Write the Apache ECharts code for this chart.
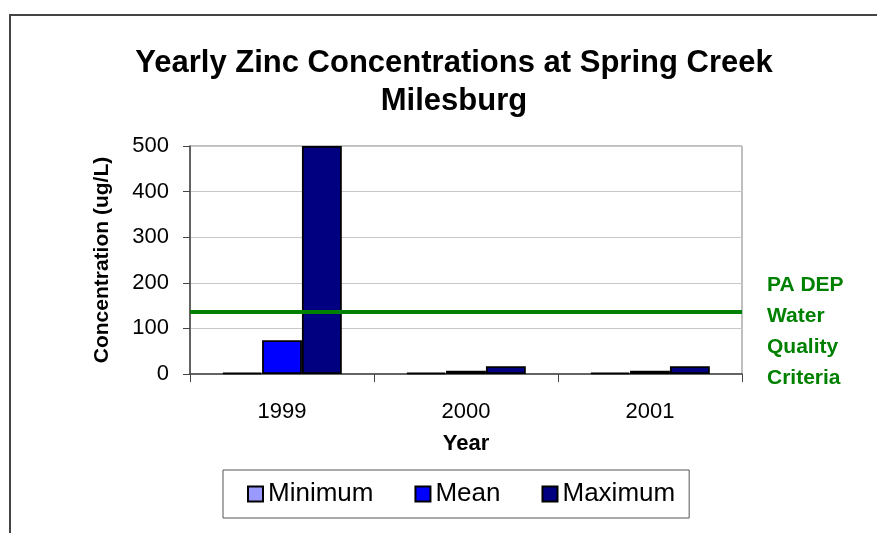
<!DOCTYPE html>
<html>
<head>
<meta charset="utf-8">
<script src="https://cdn.jsdelivr.net/npm/echarts@6/dist/echarts.min.js"></script>
<style>
  html, body { margin: 0; padding: 0; background: #fff; }
  #chart { width: 877px; height: 533px; }
</style>
</head>
<body>
<div id="chart"></div>
<script>
// values
var years = ['1999', '2000', '2001']
var minimum = [3, 3, 3]
var mean = [74, 7, 7]
var maximum = [500, 17, 17]
var criteria = 137
var yTicks = [0, 100, 200, 300, 400, 500]

var font = 'Arial, "Liberation Sans", sans-serif'
var chart = echarts.init(document.getElementById('chart'))

function barSeries(name, data, color) {
  return {
    name: name,
    type: 'bar',
    data: data,
    barGap: 0,
    barCategoryGap: '35%',
    itemStyle: { color: color, borderColor: '#000', borderWidth: 1.8 }
  }
}

var series = [
  barSeries('Minimum', minimum, '#9999ff'),
  barSeries('Mean', mean, '#0000ff'),
  barSeries('Maximum', maximum, '#000080')
]
series[2].markLine = {
  silent: true,
  symbol: 'none',
  label: { show: false },
  lineStyle: { color: '#008000', width: 4, type: 'solid' },
  data: [{ yAxis: criteria }]
}

chart.setOption({
  animation: false,
  backgroundColor: '#fff',
  textStyle: { fontFamily: font },
  title: {
    text: 'Yearly Zinc Concentrations at Spring Creek\nMilesburg',
    left: 449,
    textAlign: 'center',
    top: 39,
    textStyle: { fontSize: 31, fontWeight: 'bold', color: '#000', lineHeight: 38, fontFamily: font }
  },
  grid: {
    left: 190, right: 135, top: 146, bottom: 159,
    show: true, borderColor: '#808080', borderWidth: 1, backgroundColor: '#fff'
  },
  legend: {
    data: ['Minimum', 'Mean', 'Maximum'],
    left: 223,
    top: 470,
    orient: 'horizontal',
    icon: 'rect',
    itemWidth: 15,
    itemHeight: 15,
    itemGap: 41,
    padding: [11, 14, 11, 24],
    borderColor: '#555',
    borderWidth: 1,
    textStyle: { fontSize: 26, color: '#000', fontFamily: font }
  },
  xAxis: {
    type: 'category',
    data: years,
    name: 'Year',
    nameLocation: 'middle',
    nameGap: 59,
    nameTextStyle: { fontSize: 22, fontWeight: 'bold', color: '#000' },
    axisLine: { lineStyle: { color: '#444', width: 1.5 } },
    axisTick: { show: true, length: 8, lineStyle: { color: '#444' } },
    axisLabel: { fontSize: 22, color: '#000', margin: 27 }
  },
  yAxis: {
    type: 'value',
    min: 0,
    max: yTicks[yTicks.length - 1],
    interval: 100,
    name: 'Concentration (ug/L)',
    nameLocation: 'middle',
    nameGap: 77,
    nameTextStyle: { fontSize: 21, fontWeight: 'bold', color: '#000' },
    axisLine: { show: true, lineStyle: { color: '#444', width: 1.5 } },
    axisTick: { show: true, length: 7, lineStyle: { color: '#444' } },
    axisLabel: { fontSize: 22, color: '#000', margin: 21 },
    splitLine: { lineStyle: { color: '#c8c8c8', width: 1 } }
  },
  graphic: [
    {
      type: 'rect',
      shape: { x: 10, y: 15, width: 900, height: 600 },
      style: { fill: 'none', stroke: '#444', lineWidth: 2 },
      silent: true,
      z: -1
    },
    {
      type: 'text',
      left: 767,
      top: 270,
      style: {
        text: 'PA DEP\nWater\nQuality\nCriteria',
        fill: '#008000',
        font: 'bold 21px ' + font,
        lineHeight: 31
      }
    }
  ],
  series: series
})
</script>
</body>
</html>
